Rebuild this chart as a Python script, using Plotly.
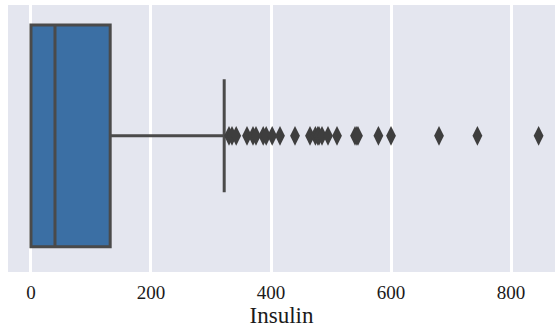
import plotly.graph_objects as go

# Box statistics (Insulin)
q1 = [0]
median = [40]
q3 = [132]
lowerfence = [0]
upperfence = [322]
outliers = [330, 335, 342, 360, 370, 375, 387, 392, 402, 415, 440, 465, 474, 478,
            480, 485, 495, 510, 540, 543, 545, 579, 600, 680, 744, 846]
tick_vals = [0, 200, 400, 600, 800]
tick_text = ["0", "200", "400", "600", "800"]
x_title = "Insulin"

LINE = "#4a4a4a"
FILL = "#3b6fa4"

fig = go.Figure()
fig.add_trace(go.Box(
    y=[0], q1=q1, median=median, q3=q3,
    lowerfence=lowerfence, upperfence=upperfence,
    orientation="h", boxpoints=False, width=0.83, whiskerwidth=0.51,
    fillcolor=FILL, line=dict(color=LINE, width=3),
    hoverinfo="skip", showlegend=False,
))
fig.add_trace(go.Scatter(
    x=outliers, y=[0] * len(outliers), mode="markers",
    marker=dict(symbol="diamond-tall", size=14, color="#3e3e3e",
                line=dict(width=0)),
    showlegend=False, hoverinfo="skip", cliponaxis=True,
))

fig.update_layout(
    width=555, height=328,
    margin=dict(l=8, r=0, t=5, b=56, autoexpand=False),
    paper_bgcolor="white", plot_bgcolor="#E4E6EF",
    font=dict(family="Liberation Serif", size=19, color="#1a1a1a"),
    xaxis=dict(range=[-38.3, 873.3], tickvals=tick_vals, ticktext=tick_text,
               showgrid=True, gridcolor="white", gridwidth=2.5, zeroline=False,
               ticks="outside", ticklen=3, tickcolor="rgba(0,0,0,0)",
               automargin=False,
               title=dict(text=x_title, standoff=6), showline=False),
    yaxis=dict(range=[-0.51, 0.49], showticklabels=False, showgrid=False,
               zeroline=False, ticks="", automargin=False),
)

fig.write_html("out.html", config={"displayModeBar": False},
               post_script="document.body.style.margin='0';document.body.style.overflow='hidden';")
